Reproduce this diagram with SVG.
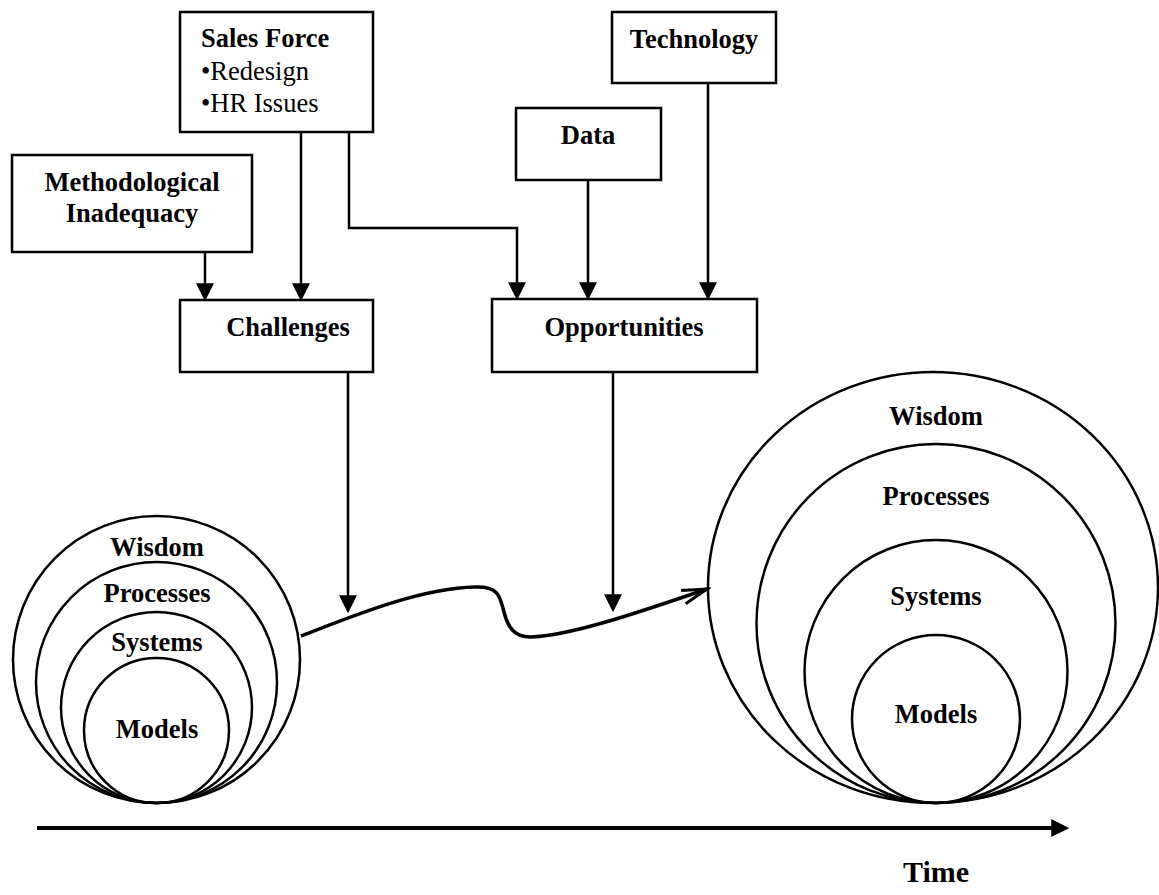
<svg xmlns="http://www.w3.org/2000/svg" width="1159" height="895" viewBox="0 0 1159 895">
<style>
.box{fill:#fff;stroke:#000;stroke-width:2.5}
.ring{fill:none;stroke:#000;stroke-width:2.5}
.b{font-family:"Liberation Serif","Times New Roman",serif;font-weight:bold;font-size:26.5px;fill:#000}
.r{font-family:"Liberation Serif","Times New Roman",serif;font-size:26.5px;fill:#000}
.c{text-anchor:middle}
.ln{fill:none;stroke:#000;stroke-width:2.5}
</style>
<defs>
<marker id="ah" markerUnits="userSpaceOnUse" markerWidth="18" markerHeight="18" viewBox="0 0 16 16" refX="6" refY="8" orient="auto">
<path d="M0,0 L16,8 L0,16 z" fill="#000"/>
</marker>
<marker id="open" markerUnits="userSpaceOnUse" markerWidth="30" markerHeight="20" viewBox="0 0 30 20" refX="26" refY="10" orient="auto">
<path d="M1,3 L26,10 L1,17" fill="none" stroke="#000" stroke-width="3"/>
</marker>
</defs>
<rect width="1159" height="895" fill="#fff"/>

<g id="connectors">
<line class="ln" x1="205" y1="252" x2="205" y2="290" marker-end="url(#ah)"/>
<line class="ln" x1="301" y1="132" x2="301" y2="290" marker-end="url(#ah)"/>
<path class="ln" d="M349,132 V228 H517 V289" marker-end="url(#ah)"/>
<line class="ln" x1="588" y1="180" x2="588" y2="289" marker-end="url(#ah)"/>
<line class="ln" x1="708" y1="83" x2="708" y2="289" marker-end="url(#ah)"/>
<line class="ln" x1="348" y1="372" x2="348" y2="602" marker-end="url(#ah)"/>
<line class="ln" x1="613" y1="372" x2="613" y2="601" marker-end="url(#ah)"/>
<path d="M301,636 C350,617 420,588 475,587 C500,586 500,598 504,612 C508,628 515,637 530,637 C570,636 640,612 707,589" fill="none" stroke="#000" stroke-width="3.5" marker-end="url(#open)"/>
<line x1="37" y1="828" x2="1058" y2="828" stroke="#000" stroke-width="4" marker-end="url(#ah)"/>
</g>

<g id="sales-force">
<rect class="box" x="180" y="12" width="193" height="120"/>
<text class="b" x="201" y="47">Sales Force</text>
<text class="r" x="201" y="80">•Redesign</text>
<text class="r" x="201" y="112">•HR Issues</text>
</g>
<g id="methodological">
<rect class="box" x="12" y="155" width="240" height="97"/>
<text class="b c" x="132" y="191">Methodological</text>
<text class="b c" x="132" y="222">Inadequacy</text>
</g>
<g id="technology">
<rect class="box" x="612" y="12" width="164" height="71"/>
<text class="b c" x="694" y="48">Technology</text>
</g>
<g id="data">
<rect class="box" x="516" y="108" width="145" height="72"/>
<text class="b c" x="588" y="144">Data</text>
</g>
<g id="challenges">
<rect class="box" x="180" y="300" width="193" height="72"/>
<text class="b c" x="288" y="336">Challenges</text>
</g>
<g id="opportunities">
<rect class="box" x="492" y="299" width="265" height="73"/>
<text class="b c" x="624" y="336">Opportunities</text>
</g>

<g id="current-state">
<circle class="ring" cx="156.5" cy="659.5" r="143.5"/>
<circle class="ring" cx="156.5" cy="682.5" r="120.5"/>
<circle class="ring" cx="156.5" cy="707.5" r="95.5"/>
<circle class="ring" cx="156.5" cy="730.5" r="72.5"/>
<text class="b c" x="157" y="556">Wisdom</text>
<text class="b c" x="157" y="602">Processes</text>
<text class="b c" x="157" y="651">Systems</text>
<text class="b c" x="157" y="738">Models</text>
</g>

<g id="future-state">
<ellipse class="ring" cx="933" cy="587.5" rx="225" ry="215.5"/>
<circle class="ring" cx="936" cy="623.5" r="179.5"/>
<circle class="ring" cx="936" cy="671.5" r="131.5"/>
<circle class="ring" cx="936" cy="719" r="84"/>
<text class="b c" x="936" y="425">Wisdom</text>
<text class="b c" x="936" y="505">Processes</text>
<text class="b c" x="936" y="605">Systems</text>
<text class="b c" x="936" y="723">Models</text>
</g>

<g id="time-label">
<text class="b c" x="936" y="882" style="font-size:30px">Time</text>
</g>
</svg>
